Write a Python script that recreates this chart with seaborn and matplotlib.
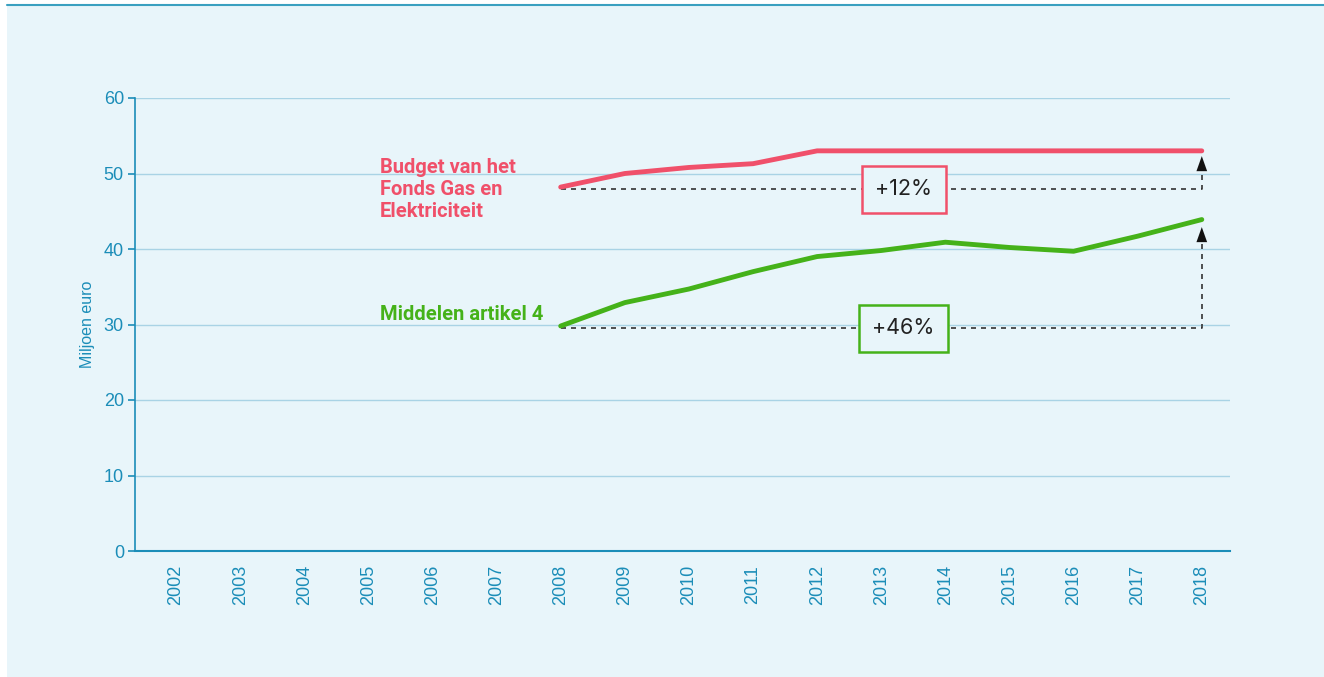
import numpy as np
import matplotlib
matplotlib.use("Agg")
import matplotlib.pyplot as plt
import pandas as pd
import seaborn as sns
from matplotlib.patches import Rectangle

# data
years = list(range(2002, 2019))
data_years = list(range(2008, 2019))
budget_fonds = [48.2, 50.0, 50.8, 51.3, 53.0, 53.0, 53.0, 53.0, 53.0, 53.0, 53.0]
middelen_art4 = [29.8, 32.9, 34.7, 37.0, 39.0, 39.8, 40.9, 40.2, 39.7, 41.7, 43.9]
series_names = ["Budget van het\nFonds Gas en\nElektriciteit", "Middelen artikel 4"]
growth_labels = ["+12%", "+46%"]
y_ticks = [0, 10, 20, 30, 40, 50, 60]

red = "#F0506A"
green = "#45B219"
teal = "#1B8DB8"
bg = "#E8F5FA"
grid_col = "#A9D3E5"

df = pd.DataFrame({
    "jaar": data_years * 2,
    "waarde": budget_fonds + middelen_art4,
    "reeks": [series_names[0]] * len(data_years) + [series_names[1]] * len(data_years),
})

sns.set_theme(style="white")
plt.rcParams['font.family'] = ['Liberation Sans', 'DejaVu Sans']

fig = plt.figure(figsize=(13.24, 6.77), dpi=100)
fig.patch.set_facecolor("white")
# background panel with top border
fig.patches.append(Rectangle((7 / 1324, 0), 1 - 7 / 1324, 1 - 5 / 677, transform=fig.transFigure,
                             facecolor=bg, edgecolor="none", zorder=-10))
fig.lines.append(plt.Line2D([7 / 1324, 1], [1 - 5 / 677, 1 - 5 / 677], transform=fig.transFigure,
                            color="#3AA0C0", lw=1.5))

ax = fig.add_axes([135 / 1324, 1 - 551 / 677, (1230 - 135) / 1324, (551 - 98) / 677])
ax.set_facecolor(bg)

sns.lineplot(data=df, x="jaar", y="waarde", hue="reeks", palette=[red, green],
             linewidth=3.5, legend=False, ax=ax, solid_capstyle="round", zorder=5)

ax.set_xlim(2001.36, 2018.44)
ax.set_ylim(0, 60)
ax.set_yticks(y_ticks)
ax.set_xticks(years)
ax.set_xticklabels([str(y) for y in years], rotation=90)
ax.yaxis.grid(True, color=grid_col, lw=1)
ax.xaxis.grid(False)
ax.set_axisbelow(True)

for s in ["top", "right"]:
    ax.spines[s].set_visible(False)
ax.spines["left"].set_color(teal)
ax.spines["bottom"].set_color(teal)
ax.spines["left"].set_linewidth(1.2)
ax.spines["bottom"].set_linewidth(1.5)
ax.tick_params(axis="y", left=True, length=5, width=1.2, color=teal, labelcolor=teal, labelsize=13, pad=3)
ax.tick_params(axis="x", bottom=False, labelcolor=teal, labelsize=13, pad=4)
ax.set_xlabel("")
ax.set_ylabel("Miljoen euro", color=teal, fontsize=11.5, labelpad=6)

# series labels
ax.text(2005.18, 52.1, series_names[0], color=red, fontsize=14.5, fontweight="bold",
        family=["Roboto", "DejaVu Sans"], va="top", ha="left", linespacing=1.2)
ax.text(2005.18, 31.3, series_names[1], color=green, fontsize=14.5, fontweight="bold",
        family=["Roboto", "DejaVu Sans"], va="center", ha="left")

# growth indicators
for start_val, end_val, lab, col, tip in [
    (budget_fonds[0] - 0.3, budget_fonds[-1], growth_labels[0], red, 52.3),
    (middelen_art4[0] - 0.3, middelen_art4[-1], growth_labels[1], green, 42.9),
]:
    ax.plot([data_years[0], data_years[-1], data_years[-1]], [start_val, start_val, tip - 1.5],
            ls=(0, (3, 3)), color="#333333", lw=1.2, zorder=3)
    ax.annotate("", xy=(data_years[-1], tip), xytext=(data_years[-1], tip - 2.0),
                arrowprops=dict(arrowstyle="-|>,head_width=0.32,head_length=0.9",
                                color="#111111", lw=0.01, shrinkA=0, shrinkB=0),
                zorder=4)
    ax.text(2013.35, start_val, lab, color="#222222", fontsize=15.5, ha="center", va="center",
            family=["Inter", "DejaVu Sans"], zorder=6,
            bbox=dict(boxstyle="square,pad=0.62", facecolor=bg, edgecolor=col, lw=1.8))

fig.savefig("out.png", dpi=100, facecolor=fig.get_facecolor())
